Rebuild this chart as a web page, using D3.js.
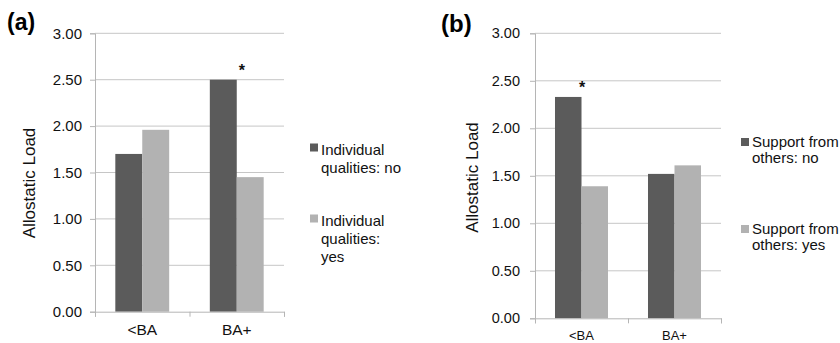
<!DOCTYPE html>
<html>
<head>
<meta charset="utf-8">
<script src="https://cdn.jsdelivr.net/npm/d3@7"></script>
<style>
  html, body { margin: 0; padding: 0; background: #fff; }
  svg { display: block; font-family: "Liberation Sans", Arial, sans-serif; }
</style>
</head>
<body>
<svg id="chart" width="840" height="343"></svg>
<script>
// ---- data ----
const categories = ["<BA", "BA+"];
const yTicks = [0, 0.5, 1, 1.5, 2, 2.5, 3];
const seriesA = ["Individual qualities: no", "Individual qualities: yes"];
const valuesA_no  = [1.70, 2.50];
const valuesA_yes = [1.96, 1.45];
const seriesB = ["Support from others: no", "Support from others: yes"];
const valuesB_no  = [2.33, 1.52];
const valuesB_yes = [1.39, 1.61];
const starA = "BA+";   // significance marker category, panel (a)
const starB = "<BA";   // significance marker category, panel (b)

const colors = ["#5b5b5b", "#b2b2b2"];
const svg = d3.select("#chart");

function panel(cfg) {
  const g = svg.append("g");
  const x0 = d3.scaleBand().domain(categories).range([cfg.left, cfg.right])
    .paddingInner(0.43).paddingOuter(0.215);
  const x1 = d3.scaleBand().domain([0, 1]).range([0, x0.bandwidth()]);
  const y = d3.scaleLinear().domain([0, 3]).range([cfg.bottom, cfg.top]);

  // gridlines
  g.append("g").selectAll("line").data(yTicks.filter(d => d > 0)).join("line")
    .attr("x1", cfg.left).attr("x2", cfg.right)
    .attr("y1", d => y(d)).attr("y2", d => y(d))
    .attr("stroke", "#c6c6c6").attr("stroke-width", 1);

  // y axis
  const yAxis = d3.axisLeft(y).tickValues(yTicks).tickFormat(d3.format(".2f"))
    .tickSize(5).tickPadding(cfg.tickPad);
  const ya = g.append("g").attr("transform", `translate(${cfg.left},0)`).call(yAxis);
  ya.select(".domain").attr("stroke", "#b5b5b5");
  ya.selectAll(".tick line").attr("stroke", "#b5b5b5");
  ya.selectAll(".tick text").attr("font-size", cfg.tickFont).attr("fill", "#111")
    .attr("font-family", "Liberation Sans, Arial, sans-serif");

  // bars
  const rows = categories.map((c, i) => ({c, vals: [cfg.no[i], cfg.yes[i]]}));
  g.append("g").selectAll("g").data(rows).join("g")
    .attr("transform", d => `translate(${x0(d.c)},0)`)
    .selectAll("rect").data(d => d.vals.map((v, k) => ({v, k}))).join("rect")
    .attr("x", d => x1(d.k)).attr("width", x1.bandwidth())
    .attr("y", d => y(d.v)).attr("height", d => y(0) - y(d.v))
    .attr("fill", d => colors[d.k]);

  // x axis
  const xAxis = d3.scaleLinear().domain([0, categories.length]).range([cfg.left, cfg.right]);
  const xa = g.append("g").attr("transform", `translate(0,${cfg.bottom})`)
    .call(d3.axisBottom(xAxis).ticks(categories.length).tickSize(5).tickFormat(""));
  xa.select(".domain").attr("stroke", "#b5b5b5");
  xa.selectAll(".tick line").attr("stroke", "#b5b5b5");
  g.append("g").selectAll("text").data(categories).join("text")
    .attr("x", d => x0(d) + x0.bandwidth() / 2)
    .attr("y", cfg.bottom + cfg.xLabDy)
    .attr("text-anchor", "middle").attr("font-size", cfg.xFont).attr("fill", "#111")
    .text(d => d);

  // significance star
  const sIdx = categories.indexOf(cfg.star);
  const sv = Math.max(cfg.no[sIdx], cfg.yes[sIdx]);
  g.append("text")
    .attr("x", x0(cfg.star) + x0.bandwidth() / 2 + cfg.starDx)
    .attr("y", y(sv) - 4)
    .attr("text-anchor", "middle").attr("font-size", 16).attr("font-weight", "bold")
    .attr("fill", "#111").text("*");

  // y label
  g.append("text")
    .attr("transform", `translate(${cfg.yLabX},${cfg.yLabY}) rotate(-90)`)
    .attr("text-anchor", "middle").attr("font-size", 17).attr("fill", "#111")
    .text("Allostatic Load");

  // panel letter
  g.append("text").attr("x", cfg.letterX).attr("y", cfg.letterY)
    .attr("font-size", cfg.letterFont).attr("font-weight", "bold").attr("fill", "#000")
    .text(cfg.letter);

  // legend
  cfg.series.forEach((s, k) => {
    const lg = g.append("g");
    lg.append("rect").attr("x", cfg.legX).attr("y", cfg.legY[k] - cfg.sqOff)
      .attr("width", 8).attr("height", 8).attr("fill", colors[k]);
    lg.append("text").attr("x", cfg.legX + 11).attr("y", cfg.legY[k])
      .attr("font-size", 15).attr("fill", "#111")
      .selectAll("tspan").data(cfg.legLines[k]).join("tspan")
      .attr("x", cfg.legX + 11).attr("dy", (d, i) => i === 0 ? 0 : cfg.legLH)
      .text(d => d);
  });
}

panel({
  left: 95, right: 284, top: 33.3, bottom: 311.7,
  no: valuesA_no, yes: valuesA_yes, star: starA, starDx: 5,
  tickPad: 8, tickFont: 15, xFont: 15.5, xLabDy: 23.5,
  yLabX: 35, yLabY: 183,
  letter: "(a)", letterX: 7, letterY: 30, letterFont: 23,
  series: seriesA,
  legLines: [["Individual", "qualities: no"], ["Individual", "qualities:", "yes"]],
  legX: 310, legY: [155, 226], legLH: 17.8, sqOff: 11.5
});

panel({
  left: 535, right: 721, top: 33.3, bottom: 318.3,
  no: valuesB_no, yes: valuesB_yes, star: starB, starDx: 0.5,
  tickPad: 10, tickFont: 14.5, xFont: 13, xLabDy: 22,
  yLabX: 478, yLabY: 177.5,
  letter: "(b)", letterX: 441, letterY: 32, letterFont: 24,
  series: seriesB,
  legLines: [["Support from", "others: no"], ["Support from", "others: yes"]],
  legX: 741, legY: [146.5, 233.5], legLH: 16.7, sqOff: 8.5
});
</script>
</body>
</html>
